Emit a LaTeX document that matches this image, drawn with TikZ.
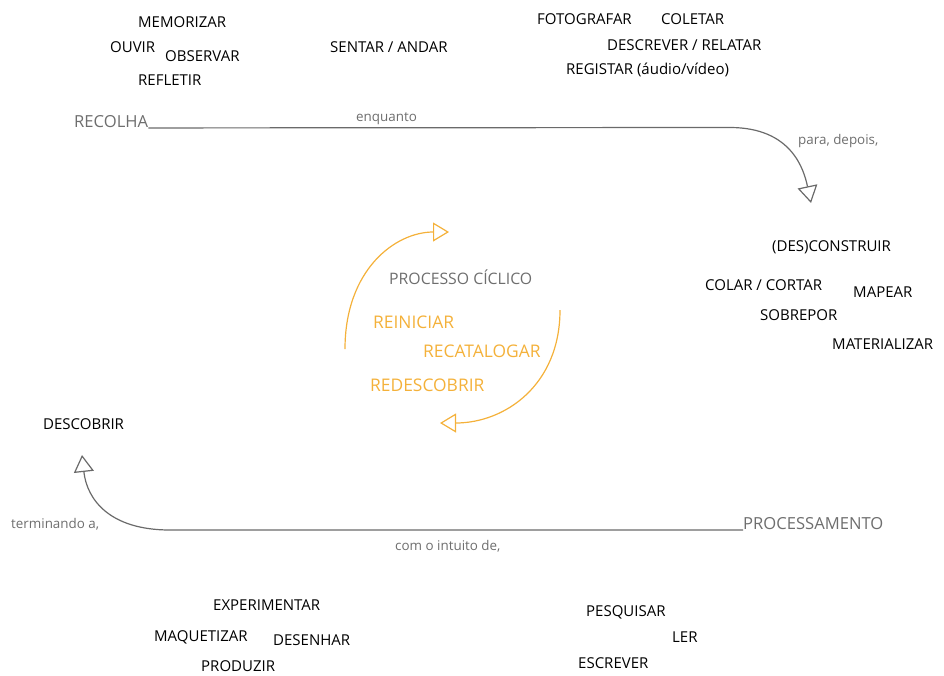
\documentclass[tikz,border=0pt]{standalone}
\usepackage{fontspec}
\setmainfont{Open Sans}
\usetikzlibrary{arrows.meta}
\definecolor{txtgray}{HTML}{6E6E6E}
\definecolor{lngray}{HTML}{6A6A6A}
\definecolor{cyc}{HTML}{F4B13A}
\tikzset{
  lbl/.style={anchor=west,inner sep=0pt,font=\fontsize{15}{17}\selectfont,text=black},
  glbl/.style={anchor=west,inner sep=0pt,font=\fontsize{16.6}{19}\selectfont,text=txtgray},
  clbl/.style={anchor=west,inner sep=0pt,font=\fontsize{15.8}{18}\selectfont,text=txtgray},
  olbl/.style={anchor=west,inner sep=0pt,font=\fontsize{17.4}{20}\selectfont,text=cyc},
  small/.style={anchor=west,inner sep=0pt,font=\fontsize{13.4}{15}\selectfont,text=txtgray},
  flow/.style={draw=lngray,line width=1.2pt,-{Triangle[open,length=17pt,width=20pt]}},
  cycle/.style={draw=cyc,line width=1.2pt,-{Triangle[open,length=16pt,width=19pt]}}
}
\begin{document}
\begin{tikzpicture}[x=1pt,y=-1pt]
\useasboundingbox (0,0) rectangle (944,675);
% top words
\node[lbl] (memorizar) at (138,22) {MEMORIZAR};
\node[lbl] (ouvir) at (110,47) {OUVIR};
\node[lbl] (observar) at (165,56) {OBSERVAR};
\node[lbl] (refletir) at (138,80) {REFLETIR};
\node[lbl] (sentar) at (330,47) {SENTAR / ANDAR};
\node[lbl] (foto) at (537,19) {FOTOGRAFAR};
\node[lbl] (coletar) at (661,19) {COLETAR};
\node[lbl] (descrever) at (607,45) {DESCREVER / RELATAR};
\node[lbl] (registar) at (566,70) {REGISTAR (áudio/vídeo)};
% right words
\node[lbl] (desconstruir) at (772,247) {(DES)CONSTRUIR};
\node[lbl] (colar) at (705,285) {COLAR / CORTAR};
\node[lbl] (mapear) at (853,292) {MAPEAR};
\node[lbl] (sobrepor) at (760,315) {SOBREPOR};
\node[lbl] (materializar) at (832,344) {MATERIALIZAR};
% left
\node[lbl] (descobrir) at (43,424) {DESCOBRIR};
% bottom words
\node[lbl] (experimentar) at (213,605) {EXPERIMENTAR};
\node[lbl] (maquetizar) at (154,637) {MAQUETIZAR};
\node[lbl] (desenhar) at (273,640) {DESENHAR};
\node[lbl] (produzir) at (201,666) {PRODUZIR};
\node[lbl] (pesquisar) at (586,612) {PESQUISAR};
\node[lbl] (ler) at (672,637) {LER};
\node[lbl] (escrever) at (578,663) {ESCREVER};
% main gray labels
\node[glbl] (recolha) at (74,122) {RECOLHA};
\node[glbl] (processamento) at (743,524) {PROCESSAMENTO};
\node[small] (enquanto) at (356,119) {enquanto};
\node[small] (paradepois) at (798,141) {para, depois,};
\node[small] (terminando) at (11,524) {terminando a,};
\node[small] (intuito) at (395,546) {com o intuito de,};
% cycle
\node[clbl] (ciclico) at (389,277) {PROCESSO CÍCLICO};
\node[olbl] (reiniciar) at (373,322) {REINICIAR};
\node[olbl] (recatalogar) at (423,351) {RECATALOGAR};
\node[olbl] (redescobrir) at (370,385) {REDESCOBRIR};
% connectors
\coordinate (t1) at (730,127.5);
\coordinate (t2) at (811,203);
\draw[flow] (recolha.base east) -- (t1)
  .. controls (792,127.5) and (804,170) .. (t2);
\coordinate (b1) at (170,530);
\coordinate (b2) at (82,455);
\draw[flow] (processamento.base west) -- (b1)
  .. controls (110,530) and (87,500) .. (b2);
\coordinate (c1) at (345,349);
\coordinate (c2) at (449,232);
\draw[cycle] (c1) .. controls (345,270) and (395,232) .. (c2);
\coordinate (c3) at (560,310);
\coordinate (c4) at (440,423);
\draw[cycle] (c3) .. controls (560,385) and (505,423) .. (c4);
\end{tikzpicture}
\end{document}
